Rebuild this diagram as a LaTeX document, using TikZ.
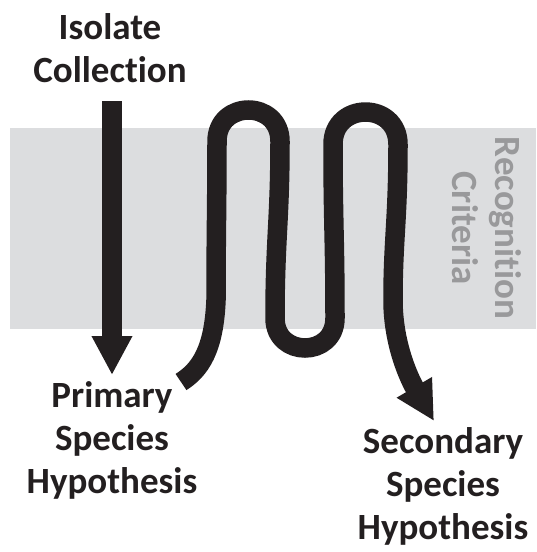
\documentclass[tikz,border=0pt]{standalone}
\usepackage{fontspec}
\setmainfont{Carlito}[Ligatures={NoCommon,NoContextual},Contextuals=NoAlternate]
\usetikzlibrary{arrows.meta}
\definecolor{ink}{RGB}{35,31,32}
\definecolor{band}{RGB}{220,221,223}
\definecolor{bandtext}{RGB}{153,153,155}
\newcommand{\nolig}{\kern0pt{}}
\begin{document}
\begin{tikzpicture}[x=1pt,y=-1pt,
  lbl/.style={font=\bfseries\fontsize{37}{43}\selectfont, text=ink, align=center, inner sep=0pt, anchor=base},
  flow/.style={draw=ink, line width=19.5pt, -{Triangle[width=38pt,length=39pt]}}]
\useasboundingbox (0,0) rectangle (536,552);
\fill[band] (10,128) rectangle (536,329);
\node[lbl, text=bandtext, rotate=-90] (crit) at (452,228) {Recognit\nolig ion\\Criteria};
\node[lbl] (iso) at (110,82) {Isolate\\Collect\nolig ion};
\node[lbl] (psh) at (112,493) {Primary\\Species\\Hypothesis};
\node[lbl] (ssh) at (443,539) {Secondary\\Species\\Hypothesis};
\coordinate (a1) at (112,101);
\coordinate (a2) at (112,375);
\draw[flow] (a1) -- (a2);
\coordinate (w0) at (181,382);
\coordinate (w1) at (434,421);
\draw[flow] (w0) .. controls (200,370) and (214,350) .. (216,300)
  .. controls (216,240) and (217,200) .. (217,141.5)
  .. controls (217,99.5) and (280,99.5) .. (280,141.5)
  .. controls (280,220) and (275,240) .. (275,318)
  .. controls (275,358) and (335,358) .. (335,318)
  .. controls (335,240) and (333,220) .. (333,144.5)
  .. controls (333,101.2) and (398,101.2) .. (398,144.5)
  .. controls (398,220) and (393,240) .. (393,300)
  .. controls (393,345) and (410,380) .. (w1);
\end{tikzpicture}
\end{document}
